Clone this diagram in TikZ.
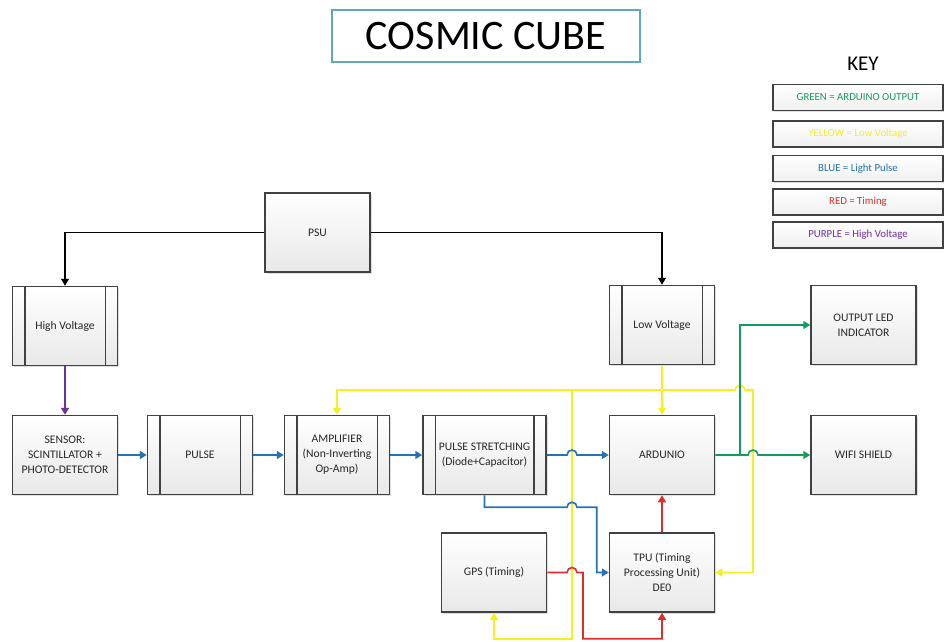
\documentclass[tikz,border=0pt]{standalone}
\usepackage{fontspec}
\setmainfont{Carlito}
\usetikzlibrary{arrows.meta,shadows}

\definecolor{wblue}{RGB}{36,113,181}
\definecolor{wgreen}{RGB}{22,155,95}
\definecolor{wyellow}{RGB}{245,240,30}
\definecolor{wred}{RGB}{222,45,45}
\definecolor{wpurple}{RGB}{112,48,160}
\definecolor{frame}{RGB}{65,65,65}
\definecolor{titleframe}{RGB}{95,170,180}

\begin{document}
\begin{tikzpicture}[x=1pt,y=-1pt,>={Triangle[length=7pt,width=8pt]},
  box/.style={draw=frame,line width=1.5pt,top color=white,bottom color=gray!18,
    drop shadow={opacity=0.25,shadow xshift=1.5pt,shadow yshift=-1.5pt},
    align=center,text=black!85,font=\fontsize{11.6}{15}\selectfont,
    minimum width=105pt,minimum height=79pt,inner sep=1pt},
  keybox/.style={draw=frame,line width=1.9pt,top color=white,bottom color=gray!12,
    drop shadow={opacity=0.25,shadow xshift=1pt,shadow yshift=-1pt},
    font=\fontsize{10.8}{12}\selectfont,minimum width=170pt,minimum height=26pt},
  wire/.style={->,line width=1.6pt}]
  \useasboundingbox (0,0) rectangle (948,641);

  % title and key
  \node[draw=titleframe,line width=1.2pt,minimum width=308pt,minimum height=52pt,
    font=\fontsize{42}{44}\selectfont] (title) at (486,36) {COSMIC CUBE};
  \node[font=\fontsize{21}{24}\selectfont] (keyhead) at (863,64) {KEY};
  \foreach \y/\c/\t [count=\i] in {97.5/wgreen/GREEN = ARDUINO OUTPUT,
      134/wyellow/YELLOW = Low Voltage, 168.5/wblue/BLUE = Light Pulse,
      202/wred/RED = Timing, 235/wpurple/PURPLE = High Voltage} {
    \node[keybox,text=\c] (key\i) at (858,\y) {\t};
  }

  % blocks
  \node[box] (psu) at (317.5,232.5) {PSU};
  \node[box] (hv) at (65,326) {High Voltage};
  \node[box] (lv) at (662,325) {Low Voltage};
  \node[box] (sensor) at (65,455) {SENSOR:\\SCINTILLATOR +\\PHOTO-DETECTOR};
  \node[box] (pulse) at (200,455) {PULSE};
  \node[box] (amp) at (337,455) {AMPLIFIER\\(Non-Inverting\\Op-Amp)};
  \node[box,minimum width=123pt] (ps) at (484.5,455) {PULSE STRETCHING\\(Diode+Capacitor)};
  \node[box] (ard) at (662,455) {ARDUNIO};
  \node[box] (tpu) at (662,572.5) {TPU (Timing\\Processing Unit)\\DE0};
  \node[box] (gps) at (494,572.5) {GPS (Timing)};
  \node[box] (led) at (863.5,325) {OUTPUT LED\\INDICATOR};
  \node[box] (wifi) at (863.5,455) {WIFI SHIELD};

  \foreach \n in {hv,lv,pulse,amp,ps} {
    \draw[frame,line width=1.5pt] ([xshift=13pt]\n.north west) -- ([xshift=13pt]\n.south west);
    \draw[frame,line width=1.5pt] ([xshift=-13pt]\n.north east) -- ([xshift=-13pt]\n.south east);
  }

  \coordinate (yj) at (662,390);
  \coordinate (yv) at (572,390);
  \coordinate (yr) at (753,390);
  \coordinate (gb) at (740,455);

  % low voltage
  \draw[wire,wyellow] (lv.south) -- (ard.north);
  \draw[wire,wyellow] (yj) -| (amp.north);
  \draw[wire,wyellow] (yj) -- ([xshift=-5pt]gb |- yj) arc[start angle=180,end angle=0,radius=5pt]
    -- (yr) |- (tpu.east);
  \draw[wire,wyellow] (yv) |- ([yshift=-26pt]gps.south) -- (gps.south);

  % power and high voltage
  \draw[wire,line width=1.2pt] (psu.west) -| (hv.north);
  \draw[wire,line width=1.2pt] (psu.east) -| (lv.north);
  \draw[wire,wpurple] (hv.south) -- (sensor.north);

  % light pulse
  \draw[wire,wblue] (sensor.east) -- (pulse.west);
  \draw[wire,wblue] (pulse.east) -- (amp.west);
  \draw[wire,wblue] (amp.east) -- (ps.west);
  \draw[wire,wblue] (ps.east) -- ([xshift=-5pt]ps.east -| yv) arc[start angle=180,end angle=0,radius=5pt]
    -- (ard.west);
  \draw[wire,wblue] (ps.south) -- ++(0,12) coordinate (bj) -- ([xshift=-5pt]bj -| yv)
    arc[start angle=180,end angle=0,radius=5pt] -| ([xshift=-12pt]tpu.west) -- (tpu.west);

  % timing
  \draw[wire,wred] (tpu.north) -- (ard.south);
  \draw[wire,wred] (gps.east) -- ([xshift=-5pt]gps.east -| yv) arc[start angle=180,end angle=0,radius=5pt]
    -- ++(6,0) |- ([yshift=-26pt]tpu.south) -- (tpu.south);

  % arduino output
  \draw[wire,wgreen] (ard.east) -- ([xshift=-5pt]ard.east -| yr) arc[start angle=180,end angle=0,radius=5pt]
    -- (wifi.west);
  \draw[wire,wgreen] (gb) |- (led.west);
\end{tikzpicture}
\end{document}
